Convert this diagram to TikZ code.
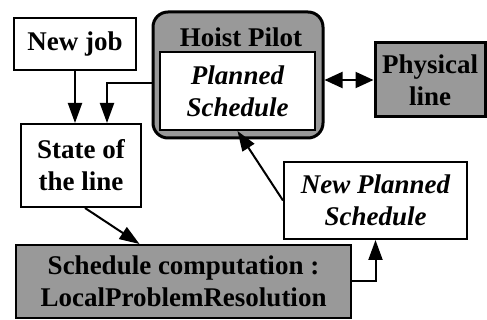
\documentclass[tikz,border=0pt]{standalone}
\usepackage{fontspec}
\setmainfont{Liberation Serif}
\usetikzlibrary{arrows.meta}

\begin{document}
\begin{tikzpicture}[x=0.5pt,y=-0.5pt,
		txt/.style={font=\bfseries\fontsize{13.5}{16}\selectfont, align=center},
		box/.style={txt, shape=rectangle, draw=black, line width=1pt, inner sep=0pt},
		greybox/.style={box, fill=black!40},
		flow/.style={-{Triangle[length=10pt,width=7pt]}, line width=1pt},
		twoway/.style={{Triangle[length=9pt,width=8pt]}-{Triangle[length=9pt,width=8pt]}, line width=1pt}]
		\useasboundingbox (0,0) rectangle (487,320);
		
		\node[box, minimum width=61pt, minimum height=26pt] (job) at (75,44) {New job};
		\node[box, minimum width=60pt, minimum height=41.5pt] (state) at (81,165.5) {State of\\the line};
		
		\node[greybox, rounded corners=7.5pt, line width=1.5pt, minimum width=85pt, minimum height=63pt] (hoist) at (238,75) {};
		\node[txt] (title) at (241,37) {Hoist Pilot};
		\node[box, fill=white, font=\bfseries\itshape\fontsize{13.5}{16}\selectfont, minimum width=77.5pt, minimum height=39pt] (planned) at (237.5,91) {Planned\\Schedule};
		
		\node[greybox, line width=1.5pt, minimum width=55pt, minimum height=37pt] (phys) at (430,80) {Physical\\line};
		
		\node[greybox, minimum width=167.5pt, minimum height=36.5pt] (sched) at (183.5,281.5) {Schedule computation :\\LocalProblemResolution};
		\node[box, font=\bfseries\itshape\fontsize{13.5}{16}\selectfont, minimum width=91.5pt, minimum height=38.5pt] (newplan) at (375.5,200.5) {New Planned\\Schedule};
		
		\path [flow] (job) edge (job.south |- state.north);
		\draw [flow] (hoist.west |- 0,83) -| (state.north -| 107,0);
		\path [flow] ([xshift=2pt]state.south) edge ([xshift=-22pt]sched.north);
		\draw [flow] (sched.east) -| (newplan.south);
		\path [flow] (newplan.west) edge (planned.south);
		\path [twoway] (hoist.east |- phys.west) edge (phys.west);
		
\end{tikzpicture}
\end{document}
